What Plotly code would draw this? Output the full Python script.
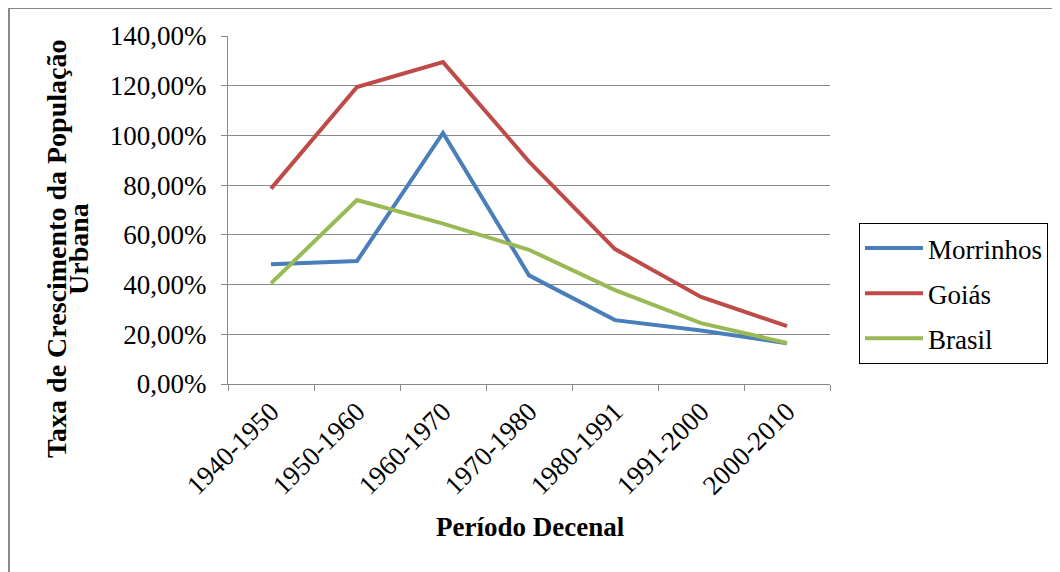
import plotly.graph_objects as go

periods = ["1940-1950", "1950-1960", "1960-1970", "1970-1980", "1980-1991", "1991-2000", "2000-2010"]
morrinhos = [0.482, 0.495, 1.01, 0.437, 0.257, 0.215, 0.164]
goias = [0.786, 1.195, 1.295, 0.895, 0.543, 0.350, 0.233]
brasil = [0.405, 0.740, 0.645, 0.540, 0.378, 0.245, 0.165]

series = [("Morrinhos", morrinhos, "#4A7EBB"),
          ("Goiás", goias, "#BE4B48"),
          ("Brasil", brasil, "#98B954")]

FONT = "Liberation Serif"
W, H = 1052, 564
L, R, T, B = 220, 230, 28, 188
pw, ph = W - L - R, H - T - B

fig = go.Figure()
for name, vals, col in series:
    fig.add_trace(go.Scatter(x=periods, y=vals, name=name, mode="lines",
                             legendgroup=name,
                             line=dict(color=col, width=4)))

def px_x(v):
    return (v - L) / pw

def px_y(v):
    return (H - B - v) / ph

fig.add_shape(type="rect", xref="paper", yref="paper",
              x0=px_x(1), x1=px_x(1080), y0=px_y(600), y1=px_y(0),
              line=dict(color="#898989", width=2), fillcolor="rgba(0,0,0,0)", layer="below")

# axis titles
fig.add_annotation(xref="paper", yref="paper", x=px_x(49), y=px_y(241),
                   text="<b>Taxa de Crescimento da População</b>", textangle=-90,
                   showarrow=False, font=dict(family=FONT, size=28, color="black"),
                   xanchor="center", yanchor="middle")
fig.add_annotation(xref="paper", yref="paper", x=px_x(71), y=px_y(241),
                   text="<b>Urbana</b>", textangle=-90,
                   showarrow=False, font=dict(family=FONT, size=28, color="black"),
                   xanchor="center", yanchor="middle")
fig.add_annotation(xref="paper", yref="paper", x=px_x(522), y=px_y(519),
                   text="<b>Período Decenal</b>",
                   showarrow=False, font=dict(family=FONT, size=27, color="black"),
                   xanchor="center", yanchor="middle")

fig.update_layout(
    width=W, height=H,
    margin=dict(l=L, r=R, t=T, b=B, autoexpand=False),
    paper_bgcolor="white", plot_bgcolor="white",
    separators=",.",
    font=dict(family=FONT, color="black", size=27),
    showlegend=True,
    legend=dict(x=px_x(851), y=px_y(215), xanchor="left", yanchor="top",
                bordercolor="black", borderwidth=1, bgcolor="white",
                font=dict(family=FONT, size=27, color="black"), tracegroupgap=7,
                traceorder="grouped", itemwidth=58),
    xaxis=dict(range=[-0.5, 6.5], showgrid=False, tickangle=-45,
               tickson="boundaries", ticks="outside", ticklen=6, tickcolor="#898989",
               showline=True, linecolor="#898989", linewidth=1,
               tickfont=dict(family=FONT, size=27, color="black")),
    yaxis=dict(range=[0, 1.4], dtick=0.2, tickformat=".2%", showgrid=True,
               gridcolor="#898989", gridwidth=1, zeroline=False,
               ticks="outside", ticklen=6, tickcolor="#898989", ticklabelstandoff=9,
               showline=True, linecolor="#898989", linewidth=1,
               tickfont=dict(family=FONT, size=27, color="black")),
)

fig.write_html("out.html")
